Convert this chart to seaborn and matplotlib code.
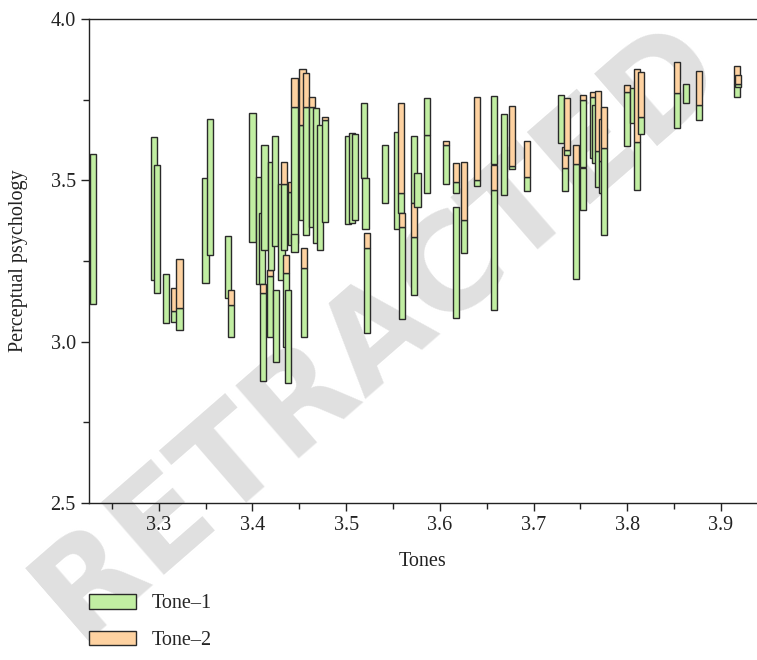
import matplotlib
matplotlib.use("Agg")
import matplotlib.pyplot as plt
from matplotlib.patches import Patch
from matplotlib.ticker import MultipleLocator
import seaborn as sns

# floating columns: Tone-1 spans low -> mid, Tone-2 spans mid -> high
tones = [3.230, 3.295, 3.298, 3.308, 3.317, 3.322, 3.350, 3.355, 3.374, 3.377,
         3.400, 3.407, 3.410, 3.411, 3.413, 3.419, 3.420, 3.424, 3.425, 3.431,
         3.434, 3.436, 3.438, 3.441, 3.445, 3.445, 3.4535, 3.455, 3.457, 3.4635,
         3.468, 3.472, 3.4775, 3.502, 3.506, 3.5095, 3.519, 3.5205, 3.522, 3.5415,
         3.554, 3.5585, 3.5595, 3.5725, 3.5725, 3.576, 3.586, 3.586, 3.6065, 3.617,
         3.617, 3.626, 3.6395, 3.658, 3.658, 3.6685, 3.677, 3.693, 3.729, 3.7335,
         3.7355, 3.745, 3.753, 3.753, 3.7635, 3.7655, 3.769, 3.773, 3.775, 3.800,
         3.806, 3.8105, 3.8145, 3.853, 3.863, 3.8765, 3.917, 3.918]

tone1_low = [3.117, 3.191, 3.151, 3.059, 3.062, 3.036, 3.182, 3.27, 3.135, 3.014,
             3.309, 3.18, 3.18, 2.878, 3.284, 3.014, 3.222, 3.296, 2.937, 3.19,
             3.284, 2.984, 2.872, 3.30, 3.306, 3.278, 3.377, 3.014, 3.33, 3.356,
             3.306, 3.284, 3.371, 3.365, 3.368, 3.377, 3.507, 3.349, 3.027, 3.43,
             3.349, 3.40, 3.07, 3.43, 3.145, 3.418, 3.46, 3.64, 3.49, 3.073,
             3.46, 3.275, 3.482, 3.551, 3.098, 3.455, 3.535, 3.467, 3.616, 3.467,
             3.58, 3.194, 3.408, 3.541, 3.569, 3.554, 3.479, 3.461, 3.33, 3.606,
             3.678, 3.47, 3.644, 3.662, 3.74, 3.687, 3.757, 3.79]

tone1_high = [3.581, 3.634, 3.548, 3.210, 3.095, 3.104, 3.507, 3.69, 3.327, 3.114,
              3.709, 3.51, 3.40, 3.15, 3.61, 3.203, 3.557, 3.637, 3.16, 3.49,
              3.488, 3.213, 3.16, 3.465, 3.727, 3.334, 3.671, 3.228, 3.727, 3.727,
              3.724, 3.671, 3.687, 3.637, 3.646, 3.644, 3.74, 3.507, 3.29, 3.61,
              3.65, 3.46, 3.356, 3.637, 3.325, 3.523, 3.64, 3.755, 3.61, 3.418,
              3.495, 3.377, 3.501, 3.761, 3.47, 3.706, 3.544, 3.51, 3.764, 3.538,
              3.594, 3.551, 3.538, 3.749, 3.758, 3.733, 3.59, 3.56, 3.6, 3.774,
              3.786, 3.62, 3.696, 3.771, 3.80, 3.733, 3.80, 3.80]

tone2_high = [3.581, 3.634, 3.548, 3.210, 3.166, 3.257, 3.507, 3.69, 3.327, 3.16,
              3.709, 3.51, 3.40, 3.18, 3.61, 3.222, 3.557, 3.637, 3.16, 3.49,
              3.557, 3.27, 3.16, 3.495, 3.817, 3.334, 3.845, 3.29, 3.833, 3.758,
              3.724, 3.671, 3.696, 3.637, 3.646, 3.644, 3.74, 3.507, 3.337, 3.61,
              3.65, 3.74, 3.40, 3.637, 3.43, 3.523, 3.64, 3.755, 3.622, 3.418,
              3.554, 3.557, 3.758, 3.761, 3.548, 3.706, 3.73, 3.622, 3.764, 3.603,
              3.755, 3.61, 3.538, 3.764, 3.774, 3.733, 3.777, 3.69, 3.727, 3.795,
              3.786, 3.845, 3.835, 3.867, 3.80, 3.839, 3.854, 3.826]

GREEN = "#c1eea2"
ORANGE = "#fed2a1"
EDGE = "#2a2a2a"
BAR_W = 0.0068

sns.set_theme(style="ticks")
plt.rcParams["font.family"] = ["Liberation Serif", "DejaVu Serif"]

fig = plt.figure(figsize=(7.57, 6.6), dpi=100)
ax = fig.add_axes([89 / 757, 157 / 660, 668 / 757, 484 / 660])
ax.set_facecolor("none")

# faint watermark behind everything
fig.text(0.5, 0.5, "RETRACTED", fontsize=94, fontweight="bold",
         family="DejaVu Sans", color="#e0e0e0", rotation=41,
         ha="center", va="center", zorder=-5)

z = 2
for x, lo, mid, hi in zip(tones, tone1_low, tone1_high, tone2_high):
    ax.bar(x, mid - lo, bottom=lo, width=BAR_W, color=GREEN,
           edgecolor=EDGE, linewidth=1.0, zorder=z)
    z += 0.01
    if hi > mid:
        ax.bar(x, hi - mid, bottom=mid, width=BAR_W, color=ORANGE,
               edgecolor=EDGE, linewidth=1.0, zorder=z)
        z += 0.01

ax.set_xlim(3.2256, 3.9385)
ax.set_ylim(2.5, 4.0)
ax.xaxis.set_major_locator(MultipleLocator(0.1))
ax.xaxis.set_minor_locator(MultipleLocator(0.05))
ax.yaxis.set_major_locator(MultipleLocator(0.5))
ax.yaxis.set_minor_locator(MultipleLocator(0.25))
ax.tick_params(axis="both", which="major", direction="out", length=6,
               width=1, labelsize=14.5, colors="#222222")
ax.tick_params(axis="both", which="minor", direction="out", length=4,
               width=1, colors="#222222")
ax.set_xticks([3.3, 3.4, 3.5, 3.6, 3.7, 3.8, 3.9])
ax.set_xticklabels(["3.3", "3.4", "3.5", "3.6", "3.7", "3.8", "3.9"])
ax.set_yticks([2.5, 3.0, 3.5, 4.0])
ax.set_yticklabels(["2.5", "3.0", "3.5", "4.0"])

for side in ["left", "bottom", "top"]:
    ax.spines[side].set_color("#222222")
    ax.spines[side].set_linewidth(1.0)
ax.spines["right"].set_visible(False)

ax.set_xlabel("Tones", fontsize=14.5, color="#222222", labelpad=12)
ax.set_ylabel("Perceptual psychology", fontsize=14.5, color="#222222", labelpad=16)

handles = [Patch(facecolor=GREEN, edgecolor=EDGE, linewidth=1.0, label="Tone\u20131"),
           Patch(facecolor=ORANGE, edgecolor=EDGE, linewidth=1.0, label="Tone\u20132")]
fig.legend(handles=handles, loc="upper left", bbox_to_anchor=(89 / 757, 1 - 594 / 660),
           frameon=False, fontsize=14.5, handlelength=2.35, handleheight=0.75,
           handletextpad=0.75, labelspacing=0.85, borderpad=0, borderaxespad=0)

fig.savefig("out.png", dpi=100)
